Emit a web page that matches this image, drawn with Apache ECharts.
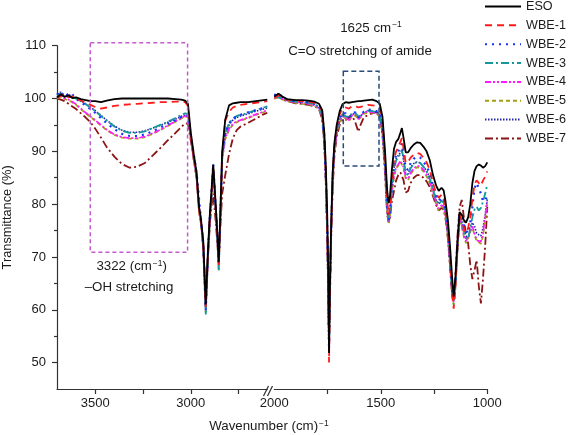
<!DOCTYPE html>
<html>
<head>
<meta charset="utf-8">
<script src="https://cdn.jsdelivr.net/npm/echarts@6/dist/echarts.min.js"></script>
<style>
html,body{margin:0;padding:0;background:#fff;}
#c{width:568px;height:435px;}
</style>
</head>
<body>
<div id="c"></div>
<script>
// Wavenumbers (cm-1), left segment (3700-2600) and right segment (2000-1000)
const wnLeft = [3700,3680,3660,3640,3620,3600,3575,3550,3525,3500,
  3470,3440,3400,3360,3320,3280,3240,3200,3160,3120,
  3080,3050,3030,3015,3000,2985,2970,2957,2948,2935,
  2922,2910,2900,2892,2883,2874,2862,2854,2845,2836,
  2820,2800,2780,2760,2740,2700,2660,2620,2600];
const wnRight = [2000,1980,1960,1940,1920,1900,1870,1840,1810,1790,
  1775,1765,1758,1752,1747,1743,1739,1733,1726,1718,
  1707,1693,1680,1665,1650,1635,1620,1605,1595,1580,
  1560,1540,1520,1505,1492,1480,1470,1463,1457,1448,
  1438,1428,1418,1408,1401,1393,1383,1372,1360,1345,
  1330,1315,1300,1285,1270,1255,1240,1228,1215,1205,
  1196,1185,1175,1165,1158,1150,1140,1130,1120,1110,
  1100,1090,1080,1070,1060,1050,1040,1030,1020,1010,1000];

// Transmittance (%) values
const esoL = [100.2,100.8,100.3,100.6,100.1,100.2,99.9,99.7,99.5,99.5,
  99.3,99.6,99.9,100,100,100,100,100,100,100,
  99.9,99.8,99.6,99.0,93.5,89.5,86,79.5,77.5,73,
  61,71.5,78.5,82.5,87.5,82.5,75,69,79,90,
  96,98.7,99.1,99.2,99.3,99.3,99.5,99.7,99.8];
const wbe1L = [100.3,100.5,100.9,100.2,100.4,100.0,99.6,99.2,98.8,98.4,
  98.1,98.3,98.6,98.8,98.9,99.0,99.1,99.2,99.3,99.3,
  99.4,99.4,99.3,98.6,93,89,85.5,79,77,72.5,
  60.5,71,78,82,86.8,82,74.5,68.5,78.5,89.5,
  95.8,97.5,98.3,98.6,98.8,99.0,99.2,99.4,99.5];
const wbe2L = [101.0,100.4,101.3,100.5,100.8,99.9,99.3,98.7,98.0,97.3,
  96.3,95.3,94.2,93.3,92.9,92.9,93.2,93.8,94.5,95.2,
  95.9,96.5,96.8,96.7,93,89.5,86,81,77.5,72.5,
  60,71,78,82,87.6,82,74.5,69,78.5,89,
  93.5,95.3,96.2,96.6,96.9,97.4,97.8,98.2,98.4];
const wbe3L = [100.6,101.0,100.3,100.7,100.2,100.0,99.5,98.9,98.3,97.6,
  96.7,95.8,94.7,93.9,93.5,93.5,93.8,94.4,95.0,95.6,
  96.3,96.9,97.2,97.1,93,89,85.5,79,77,72,
  59,70.5,77.5,81.5,86.5,81.5,74,67.5,78,89,
  93.5,95.3,96.2,96.7,96.9,97.3,97.8,98.3,98.5];
const wbe4L = [100.2,100.5,100.0,99.8,99.4,98.9,98.1,97.3,96.6,95.9,
  95.0,94.1,93.2,92.7,92.5,92.5,92.8,93.4,94.1,94.9,
  95.7,96.3,96.7,96.6,92.5,88.5,85,78.5,76.5,72,
  59.8,70.5,77.5,81.5,86.5,81.5,74,68,78,88.5,
  92.5,94.3,95.2,95.7,95.9,96.4,97.0,97.5,97.8];
const wbe5L = [100.0,100.3,99.9,99.6,99.3,98.8,98.0,97.2,96.5,95.8,
  94.9,94.0,93.1,92.6,92.4,92.4,92.7,93.3,94.0,94.8,
  95.6,96.2,96.6,96.5,92.5,88.5,85,78.5,76.5,71.5,
  59.5,70,77,81,86,81,73.5,67.5,77.5,88.5,
  92.3,94.1,95.0,95.5,95.8,96.3,96.9,97.4,97.7];
const wbe6L = [100.9,101.2,100.4,100.8,100.3,100.1,99.6,99.0,98.4,97.7,
  96.8,95.9,94.8,94.0,93.6,93.6,93.9,94.4,94.9,95.5,
  96.1,96.6,96.9,96.8,93,89,85.5,79.5,77.3,72.5,
  60.5,71,78,82,87,82,74.5,69,78.5,89,
  93.2,95.0,95.9,96.4,96.7,97.1,97.6,98.0,98.2];
const wbe7L = [100.0,99.8,99.5,99.0,98.5,98.0,97.2,96.4,95.5,94.3,
  92.6,90.8,89.0,87.6,86.9,87.1,87.8,89.2,90.6,92.1,
  93.5,94.6,95.3,95.2,92,88.5,85,79,77,72,
  62,70.5,76.5,79.5,82,78.5,73,69.5,76,82,
  85.5,89.5,92.5,94,94.7,95.4,96.2,97.0,97.3];

const esoR = [100.4,100.9,100.3,99.9,99.8,99.7,99.7,99.6,99.4,99.0,
  97.8,93.5,87,79,68,51.8,64,76,86,91.5,
  95,97.6,98.9,99.3,99.2,99.3,99.4,99.5,99.5,99.6,
  99.7,99.8,99.5,99.0,96.5,90,82.5,80.2,81.5,86.5,
  90.5,91.8,92.3,93.5,94.4,92.5,89.8,89.8,90.6,91.3,
  91.7,91.6,90.9,90.0,88.3,85.5,83.5,82.5,83.1,82.6,
  80.5,77,72,66,62.5,66,73,78.5,78,77,
  76.5,77.5,80,84,86.3,87.2,87.5,87.3,86.9,87.2,87.9];
const wbe1R = [100.2,100.6,100.1,99.8,99.7,99.6,99.5,99.4,99.2,98.8,
  97.5,93,86,77,65,50.0,62,75,85.5,91,
  94.5,97,98.2,98.3,98.1,98.5,98.6,98.3,98.4,98.6,
  98.8,98.7,98.6,98.3,95.5,88.5,80.5,78,79.5,84.5,
  88.5,90,90.8,91.8,92.5,90.5,87.8,88,88.8,89.4,
  89.7,89.5,88.8,87.9,86.5,84,82,81.2,81.8,81.4,
  79.5,75.5,70,63,60.2,64,72,78,77,75.5,
  74.5,75.5,77.5,81,83.8,84.5,84,83.5,84.5,85.2,86.2];
const wbe2R = [100.8,100.3,100.6,99.8,99.6,99.5,99.4,99.3,99.0,98.5,
  97,92,85,76,65,52.5,63,75,85,90.5,
  94,96.3,97.3,97.2,96.4,97.2,97.4,96.4,96.8,97.5,
  97.9,97.8,97.6,97.3,94.5,87.5,79.5,77,78.5,83.5,
  87.5,89.5,90,90.8,91.5,89.5,86.8,86.5,87.8,88.6,
  89.0,88.8,88,87.2,85.8,83.5,81.5,80.6,81.3,81,
  79,75,69.5,63.5,62,65,72.5,78,77.5,76,
  75,74.5,76.5,79.5,83,84,83,82,80.5,80.8,81.5];
const wbe3R = [100.5,100.2,100.0,99.7,99.5,99.4,99.3,99.2,98.9,98.4,
  96.8,92,85,76,64.5,53.7,64,75.5,85,90.5,
  94,96.2,97.0,96.6,96.5,97.2,97.3,96.6,96.8,97.4,
  97.7,97.6,97.4,97.0,94,87,79,76.8,78.2,83,
  86.5,88.3,88.8,89.6,90.3,88.5,85.8,85.5,86.8,87.6,
  88.0,87.8,87.1,86.2,84.8,82.8,80.8,80,80.6,80.3,
  78.5,74.5,69,63,61,64,71.5,77.8,76.5,75,
  73.5,73.5,75.5,77.5,79,79.5,78.8,79.3,80.5,82,83.7];
const wbe4R = [100.1,100.4,99.9,99.6,99.4,99.3,99.2,99.0,98.7,98.2,
  96.5,91.5,84.5,75.5,64,54,64.5,75.5,84.5,90,
  93.5,95.8,96.6,96.4,95.9,96.8,97.0,96.1,96.6,97.3,
  97.5,97.4,97.2,96.8,93.5,86.5,78.5,76.5,77.8,82.5,
  85.5,87,87.5,88.2,88.5,87,85,84.8,86,86.8,
  87.3,87.1,86.5,85.6,84.3,82.3,80.3,79.2,79.8,79.6,
  77.8,74,68.5,63,61.5,64.5,71.5,77.5,76,74,
  73,73.8,75,75.8,74.5,73.2,73,72.9,74.5,77.5,80.5];
const wbe5R = [100.0,100.2,99.8,99.5,99.3,99.2,99.0,98.9,98.6,98.1,
  96.3,91.3,84,75,63.5,53,64,75,84.5,90,
  93.3,95.5,96.4,96.3,95.7,96.6,96.8,96.0,96.4,97.1,
  97.4,97.3,97.1,96.6,93.3,86.3,78.3,76.3,77.6,82.2,
  85.2,86.8,87.3,88,88.3,86.8,84.8,84.5,85.7,86.5,
  87.0,86.8,86.2,85.3,84,82,80,78.8,79.5,79.3,
  77.5,73.8,68.3,62.5,61,64,71,77.3,75.8,73.8,
  72.6,73.5,74.8,75.5,74.2,73,72.8,72.5,74,77,80];
const wbe6R = [100.6,100.9,100.2,99.7,99.6,99.5,99.3,99.2,98.9,98.4,
  96.8,92,85,76,65,52.8,63.5,75,85,90.5,
  93.8,96.0,96.8,96.7,96.2,97.0,97.2,96.3,96.7,97.3,
  97.7,97.6,97.4,97.1,94.2,87.3,79.2,77,78.4,83.2,
  86.8,88.6,89.2,89.8,90.2,88.3,85.8,85.7,87,87.7,
  88.0,87.8,87.1,86.3,85,82.8,80.8,80,80.8,80.5,
  78.6,74.8,69.3,63.5,62.8,65,72,78,76.8,75,
  74,73.5,75,76.5,75.8,74.5,74.2,74,75.5,78,81];
const wbe7R = [100.0,100.3,99.8,99.5,99.3,99.1,99.0,98.8,98.5,98.0,
  96,91,84,75,64,55,64,74,83,89,
  92.8,95.0,96.0,95.9,96.4,96.8,95.5,93.7,95.0,96.4,
  96.9,97.2,97.4,96.8,93,85.8,78,76.5,77.5,80.5,
  82.5,84.5,85.5,86,86.3,84.5,82.2,82.5,84,85,
  85.5,85.5,85,84.3,83.2,81.5,79.8,78.8,79.3,79,
  77.2,73.5,68,63,62,66,74,79.5,80.8,77.5,
  74,72.6,68.5,65.8,67.5,69.4,64.5,61.2,66,72,79.5];

const seriesNames = ['ESO','WBE-1','WBE-2','WBE-3','WBE-4','WBE-5','WBE-6','WBE-7'];
const leftValues = [esoL, wbe1L, wbe2L, wbe3L, wbe4L, wbe5L, wbe6L, wbe7L];
const rightValues = [esoR, wbe1R, wbe2R, wbe3R, wbe4R, wbe5R, wbe6R, wbe7R];

const yTicksMajor = [50,60,70,80,90,100,110];
const yTicksMinor = [55,65,75,85,95,105];
const xTicksLeft = [3500,3250,3000,2750];
const xLabelsLeft = [3500,3000];
const xTicksRight = [1750,1500,1250,1000];
const xLabelsRight = [2000,1500,1000];

const styles = [
  {color:'#000000', type:'solid', width:1.8},
  {color:'#ff1a1a', type:[7,5], width:1.8},
  {color:'#1a33ff', type:[2,5], width:2.2},
  {color:'#17999a', type:[8,3,2,3], width:1.8},
  {color:'#ff1aff', type:[6,2,2,2,2,2], width:1.7},
  {color:'#a39e12', type:[4,3], width:1.8},
  {color:'#2424a8', type:[1.5,1.5], width:1.6},
  {color:'#8b1414', type:[8,3,2,3], width:1.8}
];

const FONT = '"Liberation Sans", Arial, sans-serif';
const plain = v => String(v);
const drawOrder = [7,6,5,4,3,2,1,0];
const series = [];
drawOrder.forEach(i => {
  const st = styles[i];
  series.push({
    name: seriesNames[i], type:'line', xAxisIndex:0, yAxisIndex:0,
    data: wnLeft.map((w,k)=>[w, leftValues[i][k]]),
    showSymbol:false, symbol:'none', color: st.color,
    lineStyle:{color:st.color, type:st.type, width:st.width}
  });
  series.push({
    name: seriesNames[i], type:'line', xAxisIndex:1, yAxisIndex:2,
    data: wnRight.map((w,k)=>[w, rightValues[i][k]]),
    showSymbol:false, symbol:'none', color: st.color,
    lineStyle:{color:st.color, type:st.type, width:st.width}
  });
});

const axisLineStyle = {color:'#333', width:1.2};
const option = {
  animation:false,
  backgroundColor:'#fff',
  textStyle:{fontFamily:FONT},
  legend:{
    data: seriesNames, orient:'vertical', left:484, top:0, padding:0,
    itemWidth:36, itemHeight:14, itemGap:5.85,
    itemStyle:{opacity:0},
    textStyle:{fontFamily:FONT, fontSize:12.6, color:'#1a1a1a'}
  },
  grid:[
    {left:54.7, top:45.7, width:212.6, height:343.3},
    {left:274.3, top:45.7, width:213, height:343.3}
  ],
  xAxis:[
    {type:'value', gridIndex:0, min:2600, max:3700, inverse:true,
     axisLine:{show:true, lineStyle:axisLineStyle},
     axisTick:{show:true, length:5, inside:false, customValues:xTicksLeft, lineStyle:axisLineStyle},
     axisLabel:{customValues:xLabelsLeft, formatter:plain, fontSize:13, color:'#1a1a1a', margin:8, fontFamily:FONT},
     splitLine:{show:false}},
    {type:'value', gridIndex:1, min:1000, max:2000, inverse:true,
     axisLine:{show:true, lineStyle:axisLineStyle},
     axisTick:{show:true, length:5, customValues:xTicksRight, lineStyle:axisLineStyle},
     axisLabel:{customValues:xLabelsRight, formatter:plain, fontSize:13, color:'#1a1a1a', margin:8, fontFamily:FONT},
     splitLine:{show:false}}
  ],
  yAxis:[
    {type:'value', gridIndex:0, min:45, max:110,
     name:'Transmittance (%)', nameLocation:'middle', nameGap:43, nameRotate:90,
     nameTextStyle:{fontSize:12.8, color:'#1a1a1a', fontFamily:FONT},
     axisLine:{show:true, lineStyle:axisLineStyle},
     axisTick:{show:true, length:5, customValues:yTicksMajor, lineStyle:axisLineStyle},
     axisLabel:{customValues:yTicksMajor, formatter:plain, fontSize:13, color:'#1a1a1a', margin:11, fontFamily:FONT},
     splitLine:{show:false}},
    {type:'value', gridIndex:0, min:45, max:110, position:'left',
     axisLine:{show:false},
     axisTick:{show:true, length:3, customValues:yTicksMinor, lineStyle:axisLineStyle},
     axisLabel:{show:false}, splitLine:{show:false}},
    {type:'value', gridIndex:1, min:45, max:110, show:false}
  ],
  series: series
};

const chart = echarts.init(document.getElementById('c'), null, {renderer:'canvas', width:568, height:435});
chart.setOption(option);

// Annotation boxes placed in data coordinates through the axes
const m1 = chart.convertToPixel({xAxisIndex:0, yAxisIndex:0}, [3526, 110.57]);
const m2 = chart.convertToPixel({xAxisIndex:0, yAxisIndex:0}, [3017, 70.9]);
const b1 = chart.convertToPixel({xAxisIndex:1, yAxisIndex:2}, [1676, 105.15]);
const b2 = chart.convertToPixel({xAxisIndex:1, yAxisIndex:2}, [1508.5, 87.2]);
const axisY = chart.convertToPixel({xAxisIndex:0, yAxisIndex:0}, [2600, 45])[1];

const supRich = {
  a:{fontSize:13.3, fontFamily:FONT, fill:'#1a1a1a', color:'#1a1a1a', lineHeight:16},
  s:{fontSize:8.5, fontFamily:FONT, fill:'#1a1a1a', color:'#1a1a1a', verticalAlign:'top', padding:[0,0,6,1], lineHeight:16}
};

chart.setOption({
  graphic:[
    {type:'rect', shape:{x:m1[0], y:m1[1], width:m2[0]-m1[0], height:m2[1]-m1[1]},
     style:{fill:'none', stroke:'#c25ccc', lineWidth:1.5, lineDash:[4,3]}, z:100},
    {type:'rect', shape:{x:b1[0], y:b1[1], width:b2[0]-b1[0], height:b2[1]-b1[1]},
     style:{fill:'none', stroke:'#2a4a78', lineWidth:1.5, lineDash:[5,3]}, z:100},
    {type:'line', shape:{x1:263.5, y1:axisY+7, x2:268.5, y2:axisY-3}, style:{stroke:'#333', lineWidth:1.2}, z:100},
    {type:'line', shape:{x1:267.5, y1:axisY+7, x2:272.5, y2:axisY-3}, style:{stroke:'#333', lineWidth:1.2}, z:100},
    {type:'text', x:131.7, y:266.7, style:{text:'{a|3322 (cm}{s|−1}{a|)}', rich:supRich, align:'center', verticalAlign:'middle'}, z:100},
    {type:'text', x:129, y:287.7, style:{text:'–OH stretching', font:'13.3px ' + FONT, fill:'#1a1a1a', align:'center', verticalAlign:'middle'}, z:100},
    {type:'text', x:371, y:28, style:{text:'{a|1625 cm}{s|−1}', rich:supRich, align:'center', verticalAlign:'middle'}, z:100},
    {type:'text', x:360, y:51.7, style:{text:'C=O stretching of amide', font:'13.3px ' + FONT, fill:'#1a1a1a', align:'center', verticalAlign:'middle'}, z:100},
    {type:'text', x:269, y:426.7, style:{text:'{a|Wavenumber (cm)}{s|−1}', rich:supRich, align:'center', verticalAlign:'middle'}, z:100}
  ]
});
</script>
</body>
</html>
